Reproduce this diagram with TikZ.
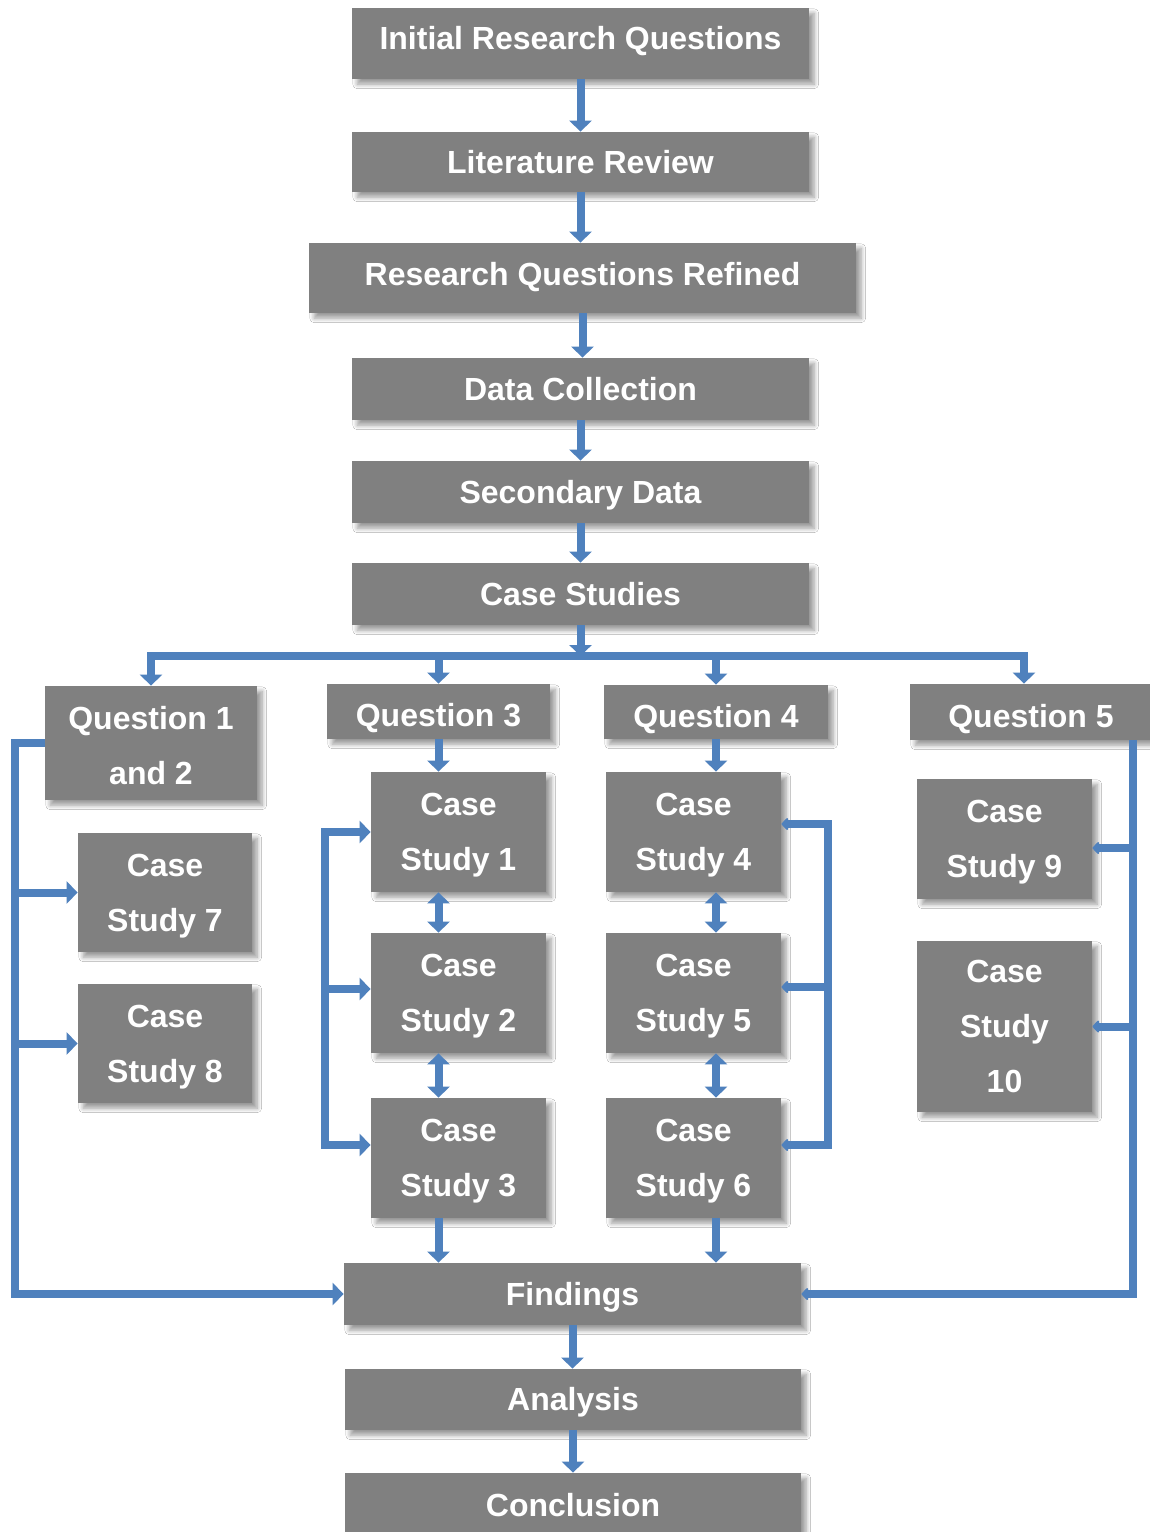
\documentclass[tikz,border=0pt]{standalone}
\usepackage{fontspec}
\setmainfont{Liberation Sans}
\usetikzlibrary{arrows.meta,shadows.blur,calc}
\definecolor{boxgray}{HTML}{808080}
\definecolor{lineblue}{HTML}{4F81BD}
\newcommand\vst{\rule[-3.4pt]{0pt}{17.9pt}}
\newcommand\fst{\rule{0pt}{14.4pt}}
\tikzset{
  box/.style={fill=boxgray, draw=none, text=white,
    font=\fontsize{16}{27.5}\selectfont\bfseries, align=center, inner sep=0pt,
    execute at begin node=\vst, execute at end node=\vst,
    blur shadow={shadow xshift=2.6pt, shadow yshift=-2.6pt, shadow blur radius=2.2pt,
      shadow blur steps=8, shadow opacity=40}},
  sz/.style 2 args={minimum width=#1*0.5pt, minimum height=#2*0.5pt},
  con/.style={draw=lineblue, line width=4pt},
  arr/.style={con, -{Triangle[width=11pt,length=5.5pt]}},
  darr/.style={con, {Triangle[width=11pt,length=5.5pt]}-{Triangle[width=11pt,length=5.5pt]}},
  sarr/.style={con, -{Triangle[width=7pt,length=3.5pt,round]}},
  sdarr/.style={con, {Triangle[width=7pt,length=3.5pt,round]}-{Triangle[width=7pt,length=3.5pt,round]}},
}
\begin{document}
\begin{tikzpicture}[x=0.5pt,y=-0.5pt]
\clip (0,0) rectangle (1150,1532);
\fill[white] (0,0) rectangle (1150,1532);

% main chain
\node[box, sz={457}{71}] (irq) at (580.5,43.5) {Initial Research Questions\rule[-8.9pt]{0pt}{0pt}};
\node[box, sz={457}{60}] (lr)  at (580.5,162) {Literature Review};
\node[box, sz={547}{70}] (rqr) at (582.5,278) {Research Questions Refined\rule[-7.4pt]{0pt}{0pt}};
\node[box, sz={457}{62}] (dc)  at (580.5,389) {Data Collection};
\node[box, sz={457}{62}] (sd)  at (580.5,492) {Secondary Data};
\node[box, sz={457}{62}] (cst) at (580.5,594) {Case Studies};

% questions
\node[box, sz={212}{114}] (q12) at (151,743) {\rule{0pt}{17.4pt}Question 1\\and 2};
\node[box, sz={223}{55}] (q3) at (438.5,711.5) {\rule{0pt}{18.4pt}Question 3};
\node[box, sz={224}{54}] (q4) at (716,712) {\rule{0pt}{18.4pt}Question 4};
\node[box, sz={242}{56}] (q5) at (1031,712) {\rule{0pt}{18.4pt}Question 5};

% case studies
\node[box, sz={174}{119}] (cs7) at (165,892.5) {\fst Case\\Study 7};
\node[box, sz={174}{119}] (cs8) at (165,1043.5) {\fst Case\\Study 8};
\node[box, sz={175}{120}] (cs1) at (458.5,832) {\fst Case\\Study 1};
\node[box, sz={175}{120}] (cs2) at (458.5,993) {\fst Case\\Study 2};
\node[box, sz={175}{120}] (cs3) at (458.5,1158) {\fst Case\\Study 3};
\node[box, sz={175}{120}] (cs4) at (693.5,832) {\fst Case\\Study 4};
\node[box, sz={175}{120}] (cs5) at (693.5,993) {\fst Case\\Study 5};
\node[box, sz={175}{120}] (cs6) at (693.5,1158) {\fst Case\\Study 6};
\node[box, sz={175}{120}] (cs9) at (1004.5,839) {\fst Case\\Study 9};
\node[box, sz={175}{171}] (cs10) at (1004.5,1026.5) {\fst Case\\Study\\10};

% bottom chain
\node[box, sz={457}{62}] (find) at (572.5,1294) {Findings};
\node[box, sz={456}{61}] (ana)  at (573,1399.5) {Analysis};
\node[box, sz={456}{64}] (conc) at (573,1505) {Conclusion};

% main chain connectors
\draw[arr] (irq.south) -- (irq.south |- lr.north);
\draw[arr] (lr.south) -- (lr.south |- rqr.north);
\draw[arr] (rqr.south) -- (rqr.south |- dc.north);
\draw[arr] (dc.south) -- (dc.south |- sd.north);
\draw[arr] (sd.south) -- (sd.south |- cst.north);

% bus to questions
\coordinate (bus) at (580.5,656);
\draw[arr] (bus) -| (q12.north);
\draw[arr] (bus) -| ([xshift=-3.5pt]q5.north);
\draw[arr] (q3.north |- bus) -- (q3.north);
\draw[arr] (q4.north |- bus) -- (q4.north);
\draw[arr] (cst.south) -- (bus);

% left column
\coordinate (lbar) at (15,1000);
\draw[arr] (q12.west) -| (lbar) |- (find.west);
\draw[arr] (lbar |- cs7.west) -- (cs7.west);
\draw[arr] (lbar |- cs8.west) -- (cs8.west);

% question 3 column
\draw[arr] (q3.south) -- (q3.south |- cs1.north);
\draw[darr] (q3.south |- cs1.south) -- (q3.south |- cs2.north);
\draw[darr] (q3.south |- cs2.south) -- (q3.south |- cs3.north);
\draw[arr] (q3.south |- cs3.south) -- (q3.south |- find.north);
\coordinate (mbar) at (325,1000);
\coordinate (c2in) at ($(cs2.west)+(0,-4)$);
\coordinate (c3in) at ($(cs3.west)+(0,-13)$);
\draw[darr] (cs1.west) -| (mbar) |- (c3in);
\draw[arr] (mbar |- c2in) -- (c2in);

% question 4 column
\draw[arr] (q4.south) -- (q4.south |- cs4.north);
\draw[darr] (q4.south |- cs4.south) -- (q4.south |- cs5.north);
\draw[darr] (q4.south |- cs5.south) -- (q4.south |- cs6.north);
\draw[arr] (q4.south |- cs6.south) -- (q4.south |- find.north);
\coordinate (rbar) at (828,1000);
\coordinate (c4in) at ($(cs4.east)+(0,-8)$);
\coordinate (c5in) at ($(cs5.east)+(0,-6)$);
\coordinate (c6in) at ($(cs6.east)+(0,-13)$);
\draw[sdarr] (c4in) -| (rbar) |- (c6in);
\draw[sarr] (rbar |- c5in) -- (c5in);

% question 5 column
\coordinate (qbar) at (1133,1000);
\coordinate (c9in) at ($(cs9.east)+(0,9)$);
\draw[sarr] (qbar |- q5.south) |- (find.east);
\draw[sarr] (qbar |- c9in) -- (c9in);
\draw[sarr] (qbar |- cs10.east) -- (cs10.east);

% bottom chain connectors
\draw[arr] (find.south) -- (find.south |- ana.north);
\draw[arr] (ana.south) -- (ana.south |- conc.north);
\end{tikzpicture}
\end{document}
